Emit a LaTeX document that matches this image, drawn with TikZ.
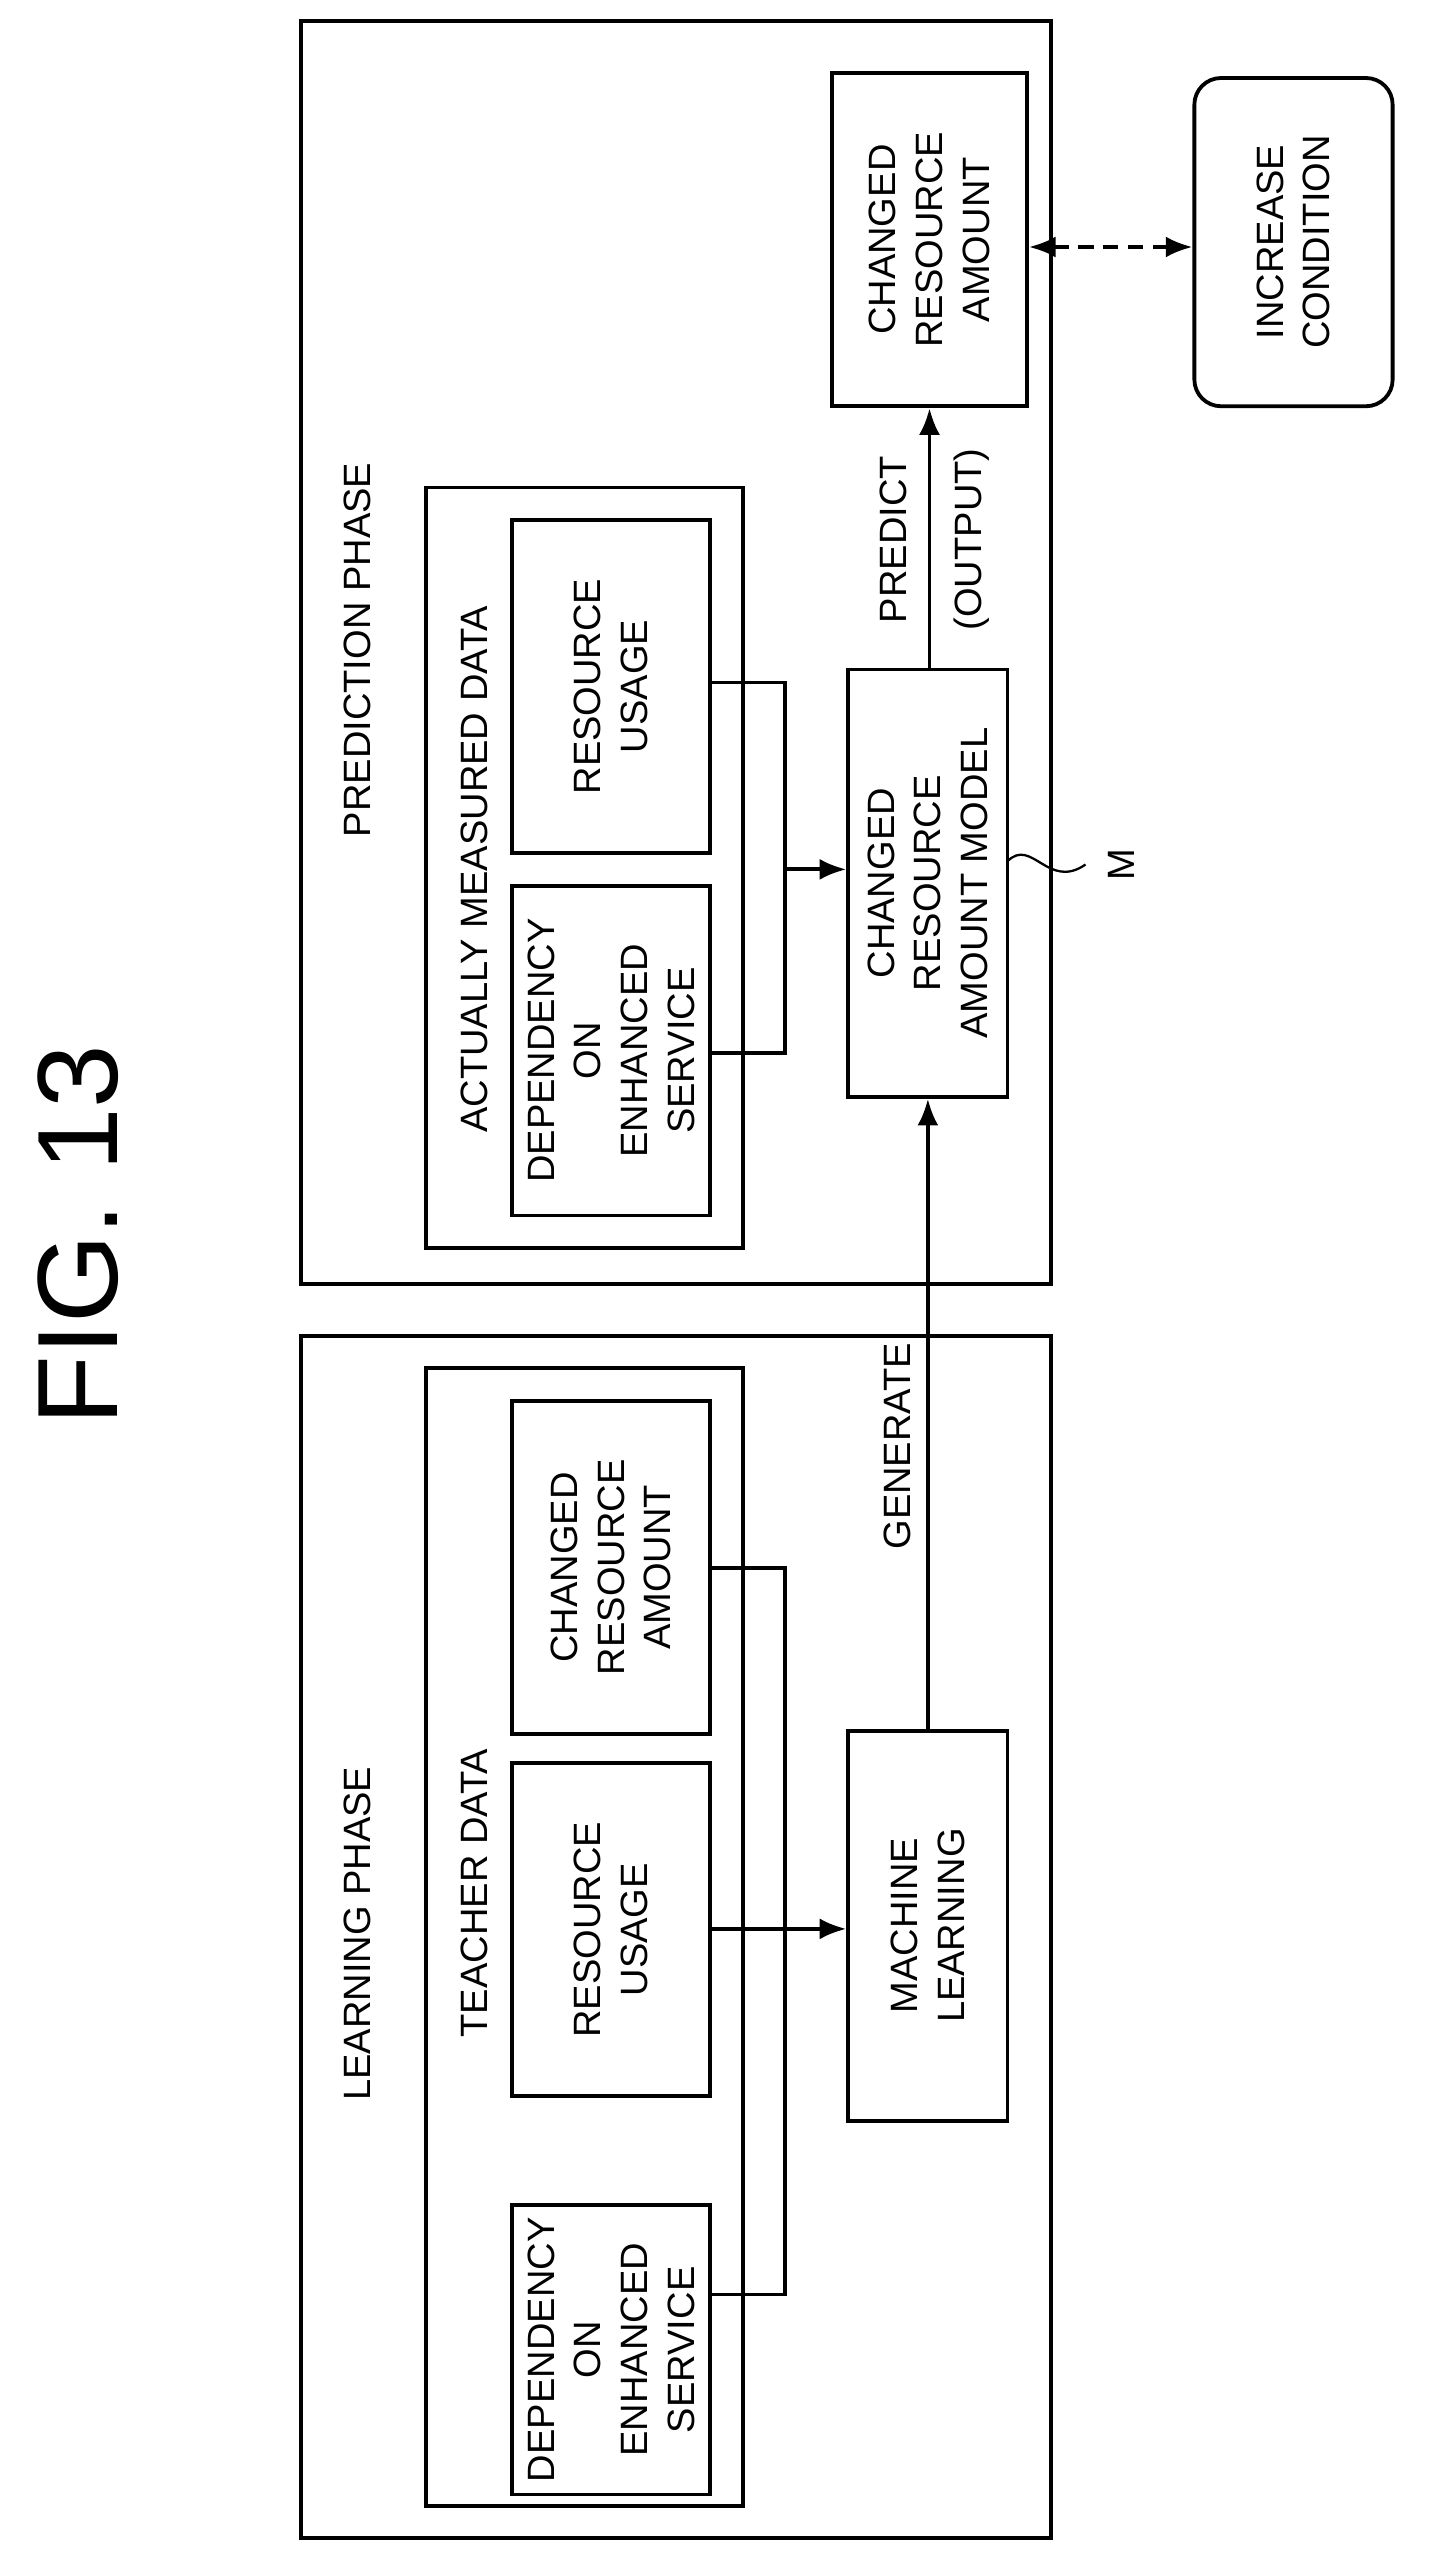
\documentclass[tikz,border=0pt]{standalone}
\usepackage{fontspec}
\setmainfont{Liberation Sans}
\usetikzlibrary{fit,arrows.meta}
\begin{document}
\begin{tikzpicture}[x=0.3mm,y=-0.3mm,
  box/.style={draw,line width=2pt,inner sep=0pt},
  rbox/.style={draw,line width=2pt,inner sep=0pt,rounded corners=14pt},
  txt/.style={rotate=90,align=center,font=\fontsize{20}{24.5}\selectfont},
  ln/.style={line width=2pt},
  arr/.style={line width=2pt,-{Latex[length=14pt,width=11pt]}}]
\useasboundingbox (0,0) rectangle (880,1584);
\node[rotate=90,font=\fontsize{60}{60}\selectfont] (fig) at (48,760) {FIG. 13};
% learning
\node[box,fit={(185,822)(647,1562)}] (lp) {};
\node[txt] (lpt) at (220,1190) {LEARNING PHASE};
\node[box,fit={(262,842)(457,1542)}] (td) {};
\node[txt] (tdt) at (292,1165) {TEACHER DATA};
\node[box,fit={(315,1357)(437,1535)}] (ld) {};
\node[txt] at (ld.center) {DEPENDENCY\\ON\\ENHANCED\\SERVICE};
\node[box,fit={(315,1085)(437,1290)}] (lr) {};
\node[txt] at (lr.center) {RESOURCE\\USAGE};
\node[box,fit={(315,862)(437,1067)}] (lc) {};
\node[txt] at (lc.center) {CHANGED\\RESOURCE\\AMOUNT};
\node[box,fit={(522,1065)(620,1305)}] (ml) {};
\node[txt] at (ml.center) {MACHINE\\LEARNING};
\coordinate (lj) at (483,1187);
\draw[ln] (ld.east |- 0,1412) -- (483,1412) -- (483,965) -- (lc.east |- 0,965);
\draw[arr] (lr.east |- lj) -- (ml.west |- lj);
% prediction
\node[box,fit={(185,13)(647,790)}] (pp) {};
\node[txt] (ppt) at (220,400) {PREDICTION PHASE};
\node[box,fit={(262,300)(457,768)}] (am) {};
\node[txt] (amt) at (292,535) {ACTUALLY MEASURED DATA};
\node[box,fit={(315,545)(437,748)}] (pd) {};
\node[txt] at (pd.center) {DEPENDENCY\\ON\\ENHANCED\\SERVICE};
\node[box,fit={(315,320)(437,525)}] (pr) {};
\node[txt] at (pr.center) {RESOURCE\\USAGE};
\node[box,fit={(522,412)(620,675)}] (mod) {};
\node[txt] at (mod.center) {CHANGED\\RESOURCE\\AMOUNT MODEL};
\node[box,fit={(512,45)(632,250)}] (pc) {};
\node[txt] at (pc.center) {CHANGED\\RESOURCE\\AMOUNT};
\node[rbox,fit={(735,48)(857,250)}] (ic) {};
\node[txt] at (ic.center) {INCREASE\\CONDITION};
\draw[ln] (pd.east |- 0,648) -- (483,648) -- (483,420) -- (pr.east |- 0,420);
\coordinate (pj) at (483,535);
\draw[arr] (pj) -- (mod.west |- pj);
\draw[arr] (ml.north) -- (mod.south);
\node[txt] (gen) at (552,890) {GENERATE};
\coordinate (mt) at (572,412);
\draw[arr] (mt) -- (mt |- pc.south);
\node[txt] at (550,332) {PREDICT};
\node[txt] at (598,332) {(OUTPUT)};
\draw[line width=2pt,dash pattern=on 8pt off 5pt,{Latex[length=14pt,width=11pt]}-{Latex[length=14pt,width=11pt]}] (pc.east |- 0,152) -- (ic.west |- 0,152);
\draw[line width=1.2pt] (620,530) .. controls (635,515) and (645,548) .. (668,532);
\node[txt] (m) at (690,532) {M};
\end{tikzpicture}
\end{document}
